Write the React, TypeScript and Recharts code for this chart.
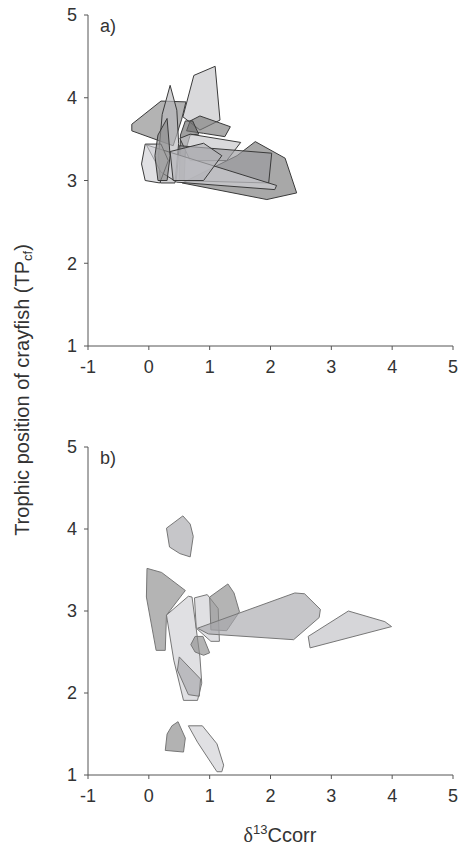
import { Scatter, ScatterChart, XAxis, YAxis } from 'recharts';

type Pt = [number, number];

const xTicks = [-1, 0, 1, 2, 3, 4, 5];
const yTicks = [1, 2, 3, 4, 5];

// panel a) – convex hulls of crayfish populations
const a01: Pt[] = [[-0.28, 3.68], [0.2, 3.96], [0.61, 3.95], [0.54, 3.74], [0.4, 3.42], [-0.28, 3.6]];
const a02: Pt[] = [[0.35, 4.15], [0.46, 3.85], [0.49, 3.45], [0.43, 2.97], [0.19, 2.97], [0.16, 3.3], [0.22, 3.8]];
const a03: Pt[] = [[0.74, 4.27], [1.09, 4.38], [1.17, 3.73], [0.84, 3.61], [0.56, 3.77]];
const a04: Pt[] = [[0.68, 3.72], [0.84, 3.78], [1.34, 3.65], [1.25, 3.53], [0.9, 3.57], [0.62, 3.6]];
const a05: Pt[] = [[0.5, 3.0], [0.52, 3.55], [0.6, 3.72], [0.72, 3.72], [0.82, 3.56], [0.68, 3.55], [0.6, 3.35], [0.58, 3.0]];
const a06: Pt[] = [[0.51, 3.51], [0.68, 3.56], [1.51, 3.46], [1.28, 3.24], [0.68, 3.24]];
const a07: Pt[] = [[1.45, 3.3], [1.75, 3.47], [2.24, 3.27], [2.43, 2.85], [1.94, 2.77], [0.55, 2.97], [0.9, 3.1]];
const a08: Pt[] = [[0.5, 3.42], [2.02, 3.33], [1.97, 2.97], [0.45, 3.0]];
const a09: Pt[] = [[-0.04, 3.43], [2.1, 2.94], [2.07, 2.89], [0.46, 2.98], [0.2, 3.1]];
const a10: Pt[] = [[-0.06, 3.44], [-0.12, 3.2], [-0.06, 3.0], [0.18, 2.97], [0.32, 3.24], [0.2, 3.44]];
const a11: Pt[] = [[0.15, 3.55], [0.3, 3.75], [0.35, 3.3], [0.3, 3.0], [0.15, 3.0], [0.1, 3.3]];
const a12: Pt[] = [[0.35, 3.35], [0.9, 3.45], [1.2, 3.3], [0.9, 3.0], [0.4, 3.0]];

// panel b)
const b01: Pt[] = [[0.29, 4.01], [0.56, 4.16], [0.68, 4.06], [0.73, 3.91], [0.68, 3.66], [0.51, 3.7], [0.34, 3.78]];
const b02: Pt[] = [[-0.03, 3.52], [0.21, 3.47], [0.6, 3.25], [0.29, 2.95], [0.27, 2.52], [0.12, 2.52], [-0.04, 3.17]];
const b03: Pt[] = [[0.29, 2.95], [0.65, 3.18], [0.71, 3.17], [0.84, 2.44], [0.87, 2.12], [0.8, 1.91], [0.57, 1.91], [0.41, 2.4]];
const b04: Pt[] = [[0.5, 2.44], [0.85, 2.17], [0.83, 1.96], [0.65, 1.98], [0.47, 2.28]];
const b05: Pt[] = [[0.76, 2.69], [0.89, 2.69], [1.0, 2.49], [0.9, 2.46], [0.76, 2.5], [0.69, 2.59]];
const b06: Pt[] = [[0.75, 3.16], [0.96, 3.2], [1.14, 3.03], [1.16, 2.63], [1.02, 2.63], [0.78, 2.79]];
const b07: Pt[] = [[1.0, 3.17], [1.3, 3.33], [1.4, 3.22], [1.49, 2.99], [1.28, 2.76], [1.02, 2.77]];
const b08: Pt[] = [[0.8, 2.79], [2.4, 3.22], [2.56, 3.21], [2.82, 3.02], [2.8, 2.92], [2.38, 2.65], [0.98, 2.72]];
const b09: Pt[] = [[2.62, 2.69], [3.28, 3.0], [3.88, 2.87], [3.99, 2.81], [2.65, 2.55]];
const b10: Pt[] = [[0.27, 1.3], [0.57, 1.28], [0.6, 1.45], [0.48, 1.65], [0.38, 1.6], [0.3, 1.5]];
const b11: Pt[] = [[0.65, 1.6], [0.88, 1.6], [1.12, 1.38], [1.23, 1.12], [1.2, 1.04], [1.12, 1.04], [0.8, 1.4]];

const hullsA = [a01, a02, a03, a04, a05, a06, a07, a08, a09, a10, a11, a12];
const hullsB = [b01, b02, b03, b04, b05, b06, b07, b08, b09, b10, b11];

const tonesA = ['#8a8a8a', '#b8b8bc', '#c4c4c8', '#7c7c7c', '#6c6c6c', '#c4c4c8', '#7a7a7a', '#9a9a9e', '#d0d0d4', '#d0d0d4', '#8a8a8a', '#b4b4b8'];
const tonesB = ['#a8a8ac', '#8c8c8c', '#d0d0d4', '#a8a8ac', '#8c8c8c', '#d0d0d4', '#8c8c8c', '#a8a8ac', '#c0c0c4', '#888888', '#d0d0d4'];

const font = 'Liberation Sans, Arial, sans-serif';

const closed = (h: Pt[]) => [...h, h[0]].map(([x, y]) => ({ x, y }));

function Panel({ hulls, tones, edge, top, height }: { hulls: Pt[][]; tones: string[]; edge: string; top: number; height: number }) {
  return (
    <div style={{ position: 'absolute', left: 0, top }}>
      <ScatterChart width={463} height={height} margin={{ top: 15, right: 10, bottom: 0, left: 0 }}>
        <XAxis
          type="number"
          dataKey="x"
          domain={[-1, 5]}
          ticks={xTicks}
          interval={0}
          allowDataOverflow
          height={30}
          tickSize={4}
          tickMargin={10}
          stroke="#555"
          tick={{ fill: '#333', fontSize: 18, fontFamily: font }}
        />
        <YAxis
          type="number"
          dataKey="y"
          domain={[1, 5]}
          ticks={yTicks}
          interval={0}
          allowDataOverflow
          width={88}
          tickSize={4}
          tickMargin={7}
          stroke="#555"
          tick={{ fill: '#333', fontSize: 18, fontFamily: font }}
        />
        {hulls.map((h, i) => (
          <Scatter
            key={i}
            data={closed(h)}
            isAnimationActive={false}
            shape={() => <g />}
            line={{ fill: tones[i], fillOpacity: 0.65, stroke: edge, strokeWidth: 1 }}
            lineJointType="linear"
          />
        ))}
      </ScatterChart>
    </div>
  );
}

export default function App() {
  return (
    <div style={{ position: 'absolute', left: 0, top: 0, width: 463, height: 846, background: '#fff' }}>
      <Panel hulls={hullsA} tones={tonesA} edge="#3a3a3a" top={0} height={376} />
      <Panel hulls={hullsB} tones={tonesB} edge="#777" top={432} height={373} />
      <svg width={463} height={846} style={{ position: 'absolute', left: 0, top: 0, pointerEvents: 'none' }}>
        <g fontFamily={font} fill="#333" fontSize={18}>
          <text x={100} y={32}>a)</text>
          <text x={100} y={464}>b)</text>
          <text transform="translate(29,390) rotate(-90)" textAnchor="middle" fontSize={20}>
            Trophic position of crayfish (TP<tspan fontSize={13} dy={3}>cf</tspan><tspan dy={-3}>)</tspan>
          </text>
          <text x={280} y={842} textAnchor="middle" fontSize={20}>
            <tspan fontFamily="Liberation Serif, serif">δ</tspan>
            <tspan fontSize={13} dy={-8}>13</tspan>
            <tspan dy={8}>Ccorr</tspan>
          </text>
        </g>
      </svg>
    </div>
  );
}
